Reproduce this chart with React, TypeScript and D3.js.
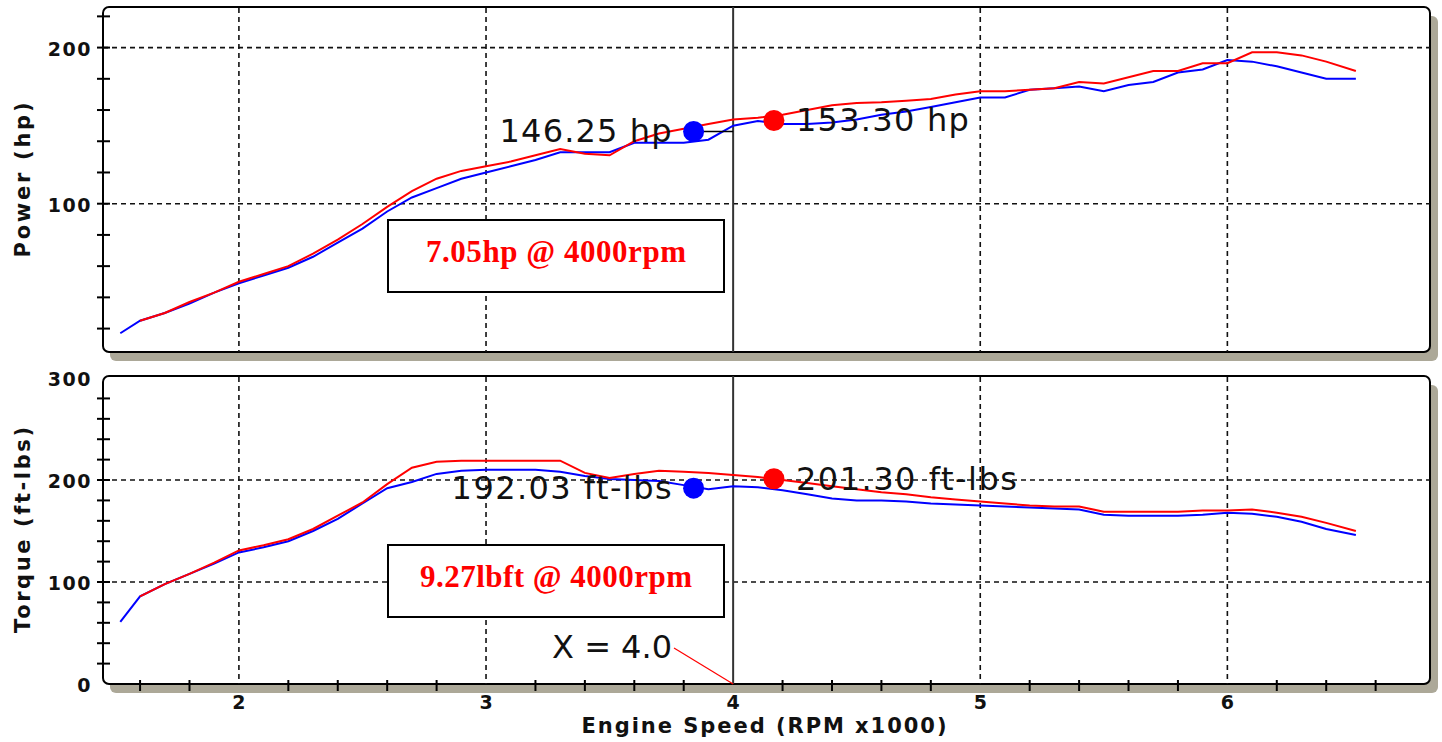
import { useEffect, useRef } from 'react';
import * as d3 from 'd3';

// engine speed (x1000 rpm) shared by every run
const rpm = [1.52, 1.6, 1.7, 1.8, 1.9, 2.0, 2.1, 2.2, 2.3, 2.4, 2.5, 2.6, 2.7, 2.8, 2.9, 3.0, 3.1, 3.2, 3.3, 3.4, 3.5, 3.6, 3.7, 3.8, 3.9, 4.0, 4.1, 4.2, 4.3, 4.4, 4.5, 4.6, 4.7, 4.8, 4.9, 5.0, 5.1, 5.2, 5.3, 5.4, 5.5, 5.6, 5.7, 5.8, 5.9, 6.0, 6.1, 6.2, 6.3, 6.4, 6.52];

const powerBlue = [17, 25, 30, 36, 43, 49, 54, 59, 66, 75, 84, 95, 104, 110, 116, 120, 124, 128, 133, 133, 133, 139, 139, 139, 141, 150, 153, 151, 151, 152, 154, 157, 159, 162, 165, 168, 168, 173, 174, 175, 172, 176, 178, 184, 186, 192, 191, 188, 184, 180, 180];
const powerRed = [null, 25, 30, 37, 43, 50, 55, 60, 68, 77, 87, 98, 108, 116, 121, 124, 127, 131, 135, 132, 131, 140, 145, 148, 151, 154, 155, 157, 160, 163, 164.5, 165, 166, 167, 170, 172, 172, 173, 174, 178, 177, 181, 185, 185, 190, 190, 197, 197, 195, 191, 185];

const torqueBlue = [61, 86, 98, 108, 118, 129, 134, 140, 150, 162, 177, 192, 198, 206, 209, 210, 210, 210, 208, 204, 201, 200, 199, 195, 191, 194, 193, 190, 186, 182, 180, 180, 179, 177, 176, 175, 174, 173, 172, 171, 166, 165, 165, 165, 166, 168, 167, 164, 159, 152, 146];
const torqueRed = [null, 86, 98, 108, 119, 131, 136, 142, 152, 165, 178, 196, 212, 218, 219, 219, 219, 219, 219, 207, 202, 206, 209, 208, 207, 205, 203, 200, 197, 194, 191, 188, 186, 183, 181, 179, 177, 175, 174, 174, 169, 169, 169, 169, 170, 170, 171, 168, 164, 158, 150];

// cursor readouts
const markerRpm = [3.84, 4.165];
const powerMarks = [146.25, 153.3];
const torqueMarks = [192.03, 201.3];
const cursorRpm = 4.0;

const rpmGrid = [2, 3, 5, 6];
const rpmLabels = [2, 3, 4, 5, 6];
const powerLabels = [100, 200];
const torqueLabels = [0, 100, 200, 300];

const BLUE = '#0000ff';
const RED = '#ff0000';
const SHADOW = '#aca898';
const TICK_FONT = 'DejaVu Sans, Verdana, sans-serif';

export default function App() {
  const svgRef = useRef<SVGSVGElement | null>(null);

  useEffect(() => {
    if (!svgRef.current) return;
    const svg = d3.select(svgRef.current);
    svg.selectAll('*').remove();

    const left = 103, right = 1430;
    const x = d3.scaleLinear().domain([1.45, 6.82]).range([left, right]);
    const yP = d3.scaleLinear().domain([5, 226]).range([352, 7]);
    const yT = d3.scaleLinear().domain([0, 302]).range([684, 376]);

    const drawPanel = (
      y: d3.ScaleLinear<number, number>,
      labels: number[],
      gridVals: number[],
      minorTicks: number[],
      blue: (number | null)[],
      red: (number | null)[],
    ) => {
      const [bottom, top] = y.range();
      const g = svg.append('g');

      // frame with drop shadow
      g.append('rect')
        .attr('x', left + 7).attr('y', top + 9)
        .attr('width', right - left + 1).attr('height', bottom - top)
        .attr('rx', 6).attr('fill', SHADOW);
      g.append('rect')
        .attr('x', left).attr('y', top)
        .attr('width', right - left).attr('height', bottom - top)
        .attr('rx', 6).attr('fill', '#fff')
        .attr('stroke', '#000').attr('stroke-width', 2);

      // dashed grid
      g.selectAll('.vgrid').data(rpmGrid).enter().append('line')
        .attr('x1', d => x(d)).attr('x2', d => x(d))
        .attr('y1', top + 1).attr('y2', bottom)
        .attr('stroke', '#111').attr('stroke-width', 1.6)
        .attr('stroke-dasharray', '5 4');
      g.selectAll('.hgrid').data(gridVals).enter().append('line')
        .attr('x1', left).attr('x2', right)
        .attr('y1', d => y(d)).attr('y2', d => y(d))
        .attr('stroke', '#111').attr('stroke-width', 1.6)
        .attr('stroke-dasharray', '5 4');

      // cursor line
      g.append('line')
        .attr('x1', x(cursorRpm)).attr('x2', x(cursorRpm))
        .attr('y1', top).attr('y2', bottom)
        .attr('stroke', '#333').attr('stroke-width', 2);

      // y ticks
      g.selectAll('.ytick').data(minorTicks).enter().append('line')
        .attr('x1', left - 6).attr('x2', left + 7)
        .attr('y1', d => y(d)).attr('y2', d => y(d))
        .attr('stroke', '#000').attr('stroke-width', 2);

      g.selectAll('.ylabel').data(labels).enter().append('text')
        .attr('x', 92).attr('y', d => y(d) + 8)
        .attr('text-anchor', 'end')
        .style('font-family', TICK_FONT).style('font-weight', 'bold')
        .style('font-size', '19px').style('letter-spacing', '1.5px')
        .attr('fill', '#111')
        .text(d => d);

      const line = d3.line<number | null>()
        .defined(d => d != null)
        .x((d, i) => x(rpm[i]))
        .y(d => y(d as number));

      g.append('path').attr('d', line(blue))
        .attr('fill', 'none').attr('stroke', BLUE).attr('stroke-width', 2);
      g.append('path').attr('d', line(red))
        .attr('fill', 'none').attr('stroke', RED).attr('stroke-width', 2);
      return g;
    };

    const gP = drawPanel(yP, powerLabels, powerLabels, d3.range(20, 221, 20), powerBlue, powerRed);
    const gT = drawPanel(yT, torqueLabels, [100, 200], d3.range(20, 281, 20), torqueBlue, torqueRed);

    // x axis ticks on the torque panel
    const xMinor = d3.range(1.6, 6.7, 0.2).filter(v => Math.abs(v - Math.round(v)) > 0.01);
    gT.selectAll('.xtick').data(xMinor).enter().append('line')
      .attr('x1', d => x(d)).attr('x2', d => x(d))
      .attr('y1', yT(0) - 4).attr('y2', yT(0) + 7)
      .attr('stroke', '#000').attr('stroke-width', 2);
    gT.selectAll('.xlabel').data(rpmLabels).enter().append('text')
      .attr('x', d => x(d)).attr('y', 709)
      .attr('text-anchor', 'middle')
      .style('font-family', TICK_FONT).style('font-weight', 'bold')
      .style('font-size', '19px').attr('fill', '#111')
      .text(d => d);

    // axis titles
    const title = (txt: string, tx: number, ty: number, len: number, rot: boolean) => {
      svg.append('text')
        .attr('transform', `translate(${tx},${ty})${rot ? ' rotate(-90)' : ''}`)
        .attr('text-anchor', 'middle')
        .attr('textLength', len).attr('lengthAdjust', 'spacing')
        .style('font-family', TICK_FONT).style('font-weight', 'bold')
        .style('font-size', '21px').attr('fill', '#111')
        .text(txt);
    };
    title('Power (hp)', 30, 180, 155, true);
    title('Torque (ft-lbs)', 30, 530, 206, true);
    title('Engine Speed (RPM x1000)', 764, 733, 365, false);

    // readout markers + labels
    const readout = (g: any, y: d3.ScaleLinear<number, number>, vals: number[], unit: string, lens: number[]) => {
      const fmt = d3.format('.2f');
      // connector from the blue marker to the cursor
      if (unit === 'hp') {
        g.append('line')
          .attr('x1', x(markerRpm[0]) + 9).attr('x2', x(cursorRpm))
          .attr('y1', y(vals[0])).attr('y2', y(vals[0]))
          .attr('stroke', '#000').attr('stroke-width', 1.5);
      }
      [BLUE, RED].forEach((c, i) => {
        g.append('circle')
          .attr('cx', x(markerRpm[i])).attr('cy', y(vals[i]))
          .attr('r', 10.5).attr('fill', c);
      });
      g.append('text')
        .attr('x', x(markerRpm[0]) - 22).attr('y', y(vals[0]) + 11)
        .attr('text-anchor', 'end')
        .attr('textLength', lens[0]).attr('lengthAdjust', 'spacing')
        .style('font-family', TICK_FONT).style('font-size', '32px').attr('fill', '#111')
        .text(`${fmt(vals[0])} ${unit}`);
      g.append('text')
        .attr('x', x(markerRpm[1]) + 22).attr('y', y(vals[1]) + 11)
        .attr('textLength', lens[1]).attr('lengthAdjust', 'spacing')
        .style('font-family', TICK_FONT).style('font-size', '32px').attr('fill', '#111')
        .text(`${fmt(vals[1])} ${unit}`);
    };
    readout(gP, yP, powerMarks, 'hp', [172, 173]);
    readout(gT, yT, torqueMarks, 'ft-lbs', [220, 221]);

    // X readout with leader
    gT.append('line')
      .attr('x1', 674).attr('y1', 648)
      .attr('x2', x(cursorRpm)).attr('y2', yT(0))
      .attr('stroke', RED).attr('stroke-width', 1.2);
    gT.append('text')
      .attr('x', 672).attr('y', 658)
      .attr('text-anchor', 'end')
      .style('font-family', TICK_FONT).style('font-size', '32px').attr('fill', '#111')
      .text(`X = ${cursorRpm.toFixed(1)}`);

    // gain boxes
    const gainBox = (g: any, by: number, txt: string, len: number) => {
      g.append('rect')
        .attr('x', 388).attr('y', by).attr('width', 336).attr('height', 72)
        .attr('fill', '#fff').attr('stroke', '#000').attr('stroke-width', 2);
      g.append('text')
        .attr('x', 556).attr('y', by + 42)
        .attr('text-anchor', 'middle')
        .attr('textLength', len).attr('lengthAdjust', 'spacing')
        .style('font-family', 'Liberation Serif, Times New Roman, serif')
        .style('font-weight', 'bold').style('font-size', '31px')
        .attr('fill', RED)
        .text(txt);
    };
    gainBox(gP, 220, '7.05hp @ 4000rpm', 260);
    gainBox(gT, 545, '9.27lbft @ 4000rpm', 272);
  }, []);

  return (
    <div style={{ position: 'absolute', left: 0, top: 0, background: '#fff' }}>
      <svg ref={svgRef} width={1442} height={742}></svg>
    </div>
  );
}
